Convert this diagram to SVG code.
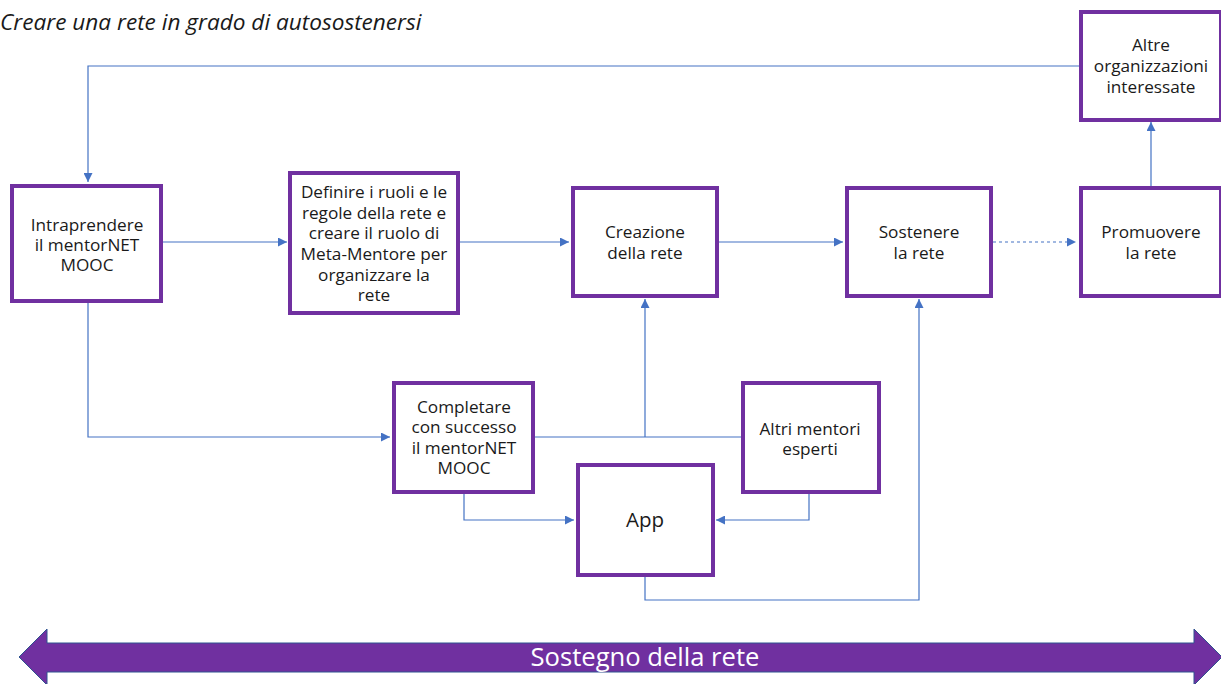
<svg xmlns="http://www.w3.org/2000/svg" width="1221" height="684" viewBox="0 0 1221 684">
<defs>
<marker id="ah" viewBox="0 0 10 10" refX="10" refY="5" markerWidth="9" markerHeight="9" markerUnits="userSpaceOnUse" orient="auto">
<path d="M0,0 L10,5 L0,10 z" fill="#4472C4"/>
</marker>
<style>
.box{fill:#fff;stroke:#7030A0;stroke-width:4}
.t{font-family:"Open Sans","Noto Sans","Liberation Sans",sans-serif;font-size:17.2px;fill:#1a1a1a;text-anchor:middle}
.c{fill:none;stroke:#4472C4;stroke-width:1.2}
</style>
</defs>
<rect width="1221" height="684" fill="#fff"/>
<text x="0" y="30" font-family="'Open Sans','Noto Sans','Liberation Sans',sans-serif" font-style="italic" font-size="22.6" fill="#1a1a1a">Creare una rete in grado di autosostenersi</text>

<g id="connectors">
<path class="c" d="M1080,66 H88 V182" marker-end="url(#ah)"/>
<path class="c" d="M163,242 H287" marker-end="url(#ah)"/>
<path class="c" d="M459,242 H569" marker-end="url(#ah)"/>
<path class="c" d="M718,242 H843" marker-end="url(#ah)"/>
<path class="c" d="M993,242 H1076" stroke-dasharray="3,3" marker-end="url(#ah)"/>
<path class="c" d="M1151,186 V122" marker-end="url(#ah)"/>
<path class="c" d="M88,302 V437 H390" marker-end="url(#ah)"/>
<path class="c" d="M534,437 H741"/>
<path class="c" d="M645,437 V299" marker-end="url(#ah)"/>
<path class="c" d="M464,493 V520 H574" marker-end="url(#ah)"/>
<path class="c" d="M809,493 V520 H716" marker-end="url(#ah)"/>
<path class="c" d="M645,577 V600 H919 V299" marker-end="url(#ah)"/>
</g>

<g id="n-intraprendere">
<rect class="box" x="12" y="186" width="149" height="115"/>
<text class="t"><tspan x="87" y="231">Intraprendere</tspan><tspan x="87" y="251">il mentorNET</tspan><tspan x="87" y="271">MOOC</tspan></text>
</g>
<g id="n-definire">
<rect class="box" x="290" y="173" width="168" height="140"/>
<text class="t"><tspan x="374" y="198">Definire i ruoli e le</tspan><tspan x="374" y="219">regole della rete e</tspan><tspan x="374" y="239">creare il ruolo di</tspan><tspan x="374" y="260">Meta-Mentore per</tspan><tspan x="374" y="281">organizzare la</tspan><tspan x="374" y="301">rete</tspan></text>
</g>
<g id="n-creazione">
<rect class="box" x="573" y="188" width="144" height="108"/>
<text class="t"><tspan x="645" y="238">Creazione</tspan><tspan x="645" y="259">della rete</tspan></text>
</g>
<g id="n-sostenere">
<rect class="box" x="847" y="188" width="144" height="108"/>
<text class="t"><tspan x="919" y="238">Sostenere</tspan><tspan x="919" y="259">la rete</tspan></text>
</g>
<g id="n-promuovere">
<rect class="box" x="1081" y="188" width="140" height="108"/>
<text class="t"><tspan x="1151" y="238">Promuovere</tspan><tspan x="1151" y="259">la rete</tspan></text>
</g>
<g id="n-altre">
<rect class="box" x="1081" y="12" width="140" height="108"/>
<text class="t"><tspan x="1151" y="51">Altre</tspan><tspan x="1151" y="72">organizzazioni</tspan><tspan x="1151" y="93">interessate</tspan></text>
</g>
<g id="n-completare">
<rect class="box" x="394" y="383" width="139" height="109"/>
<text class="t"><tspan x="464" y="413">Completare</tspan><tspan x="464" y="433">con successo</tspan><tspan x="464" y="454">il mentorNET</tspan><tspan x="464" y="474">MOOC</tspan></text>
</g>
<g id="n-altri">
<rect class="box" x="743" y="383" width="136" height="109"/>
<text class="t"><tspan x="810" y="435">Altri mentori</tspan><tspan x="810" y="455">esperti</tspan></text>
</g>
<g id="n-app">
<rect class="box" x="578" y="465" width="135" height="110"/>
<text class="t" style="font-size:20.5px" x="645" y="527">App</text>
</g>

<g id="n-sostegno">
<path d="M19,657 L47,629 L47,643 L1194,643 L1194,629 L1222,657 L1194,685 L1194,672 L47,672 L47,685 Z" fill="#7030A0" stroke="#2F528F" stroke-width="1"/>
<text x="645" y="666" font-family="'Open Sans','Noto Sans','Liberation Sans',sans-serif" font-size="25.6" fill="#fff" text-anchor="middle">Sostegno della rete</text>
</g>
</svg>
